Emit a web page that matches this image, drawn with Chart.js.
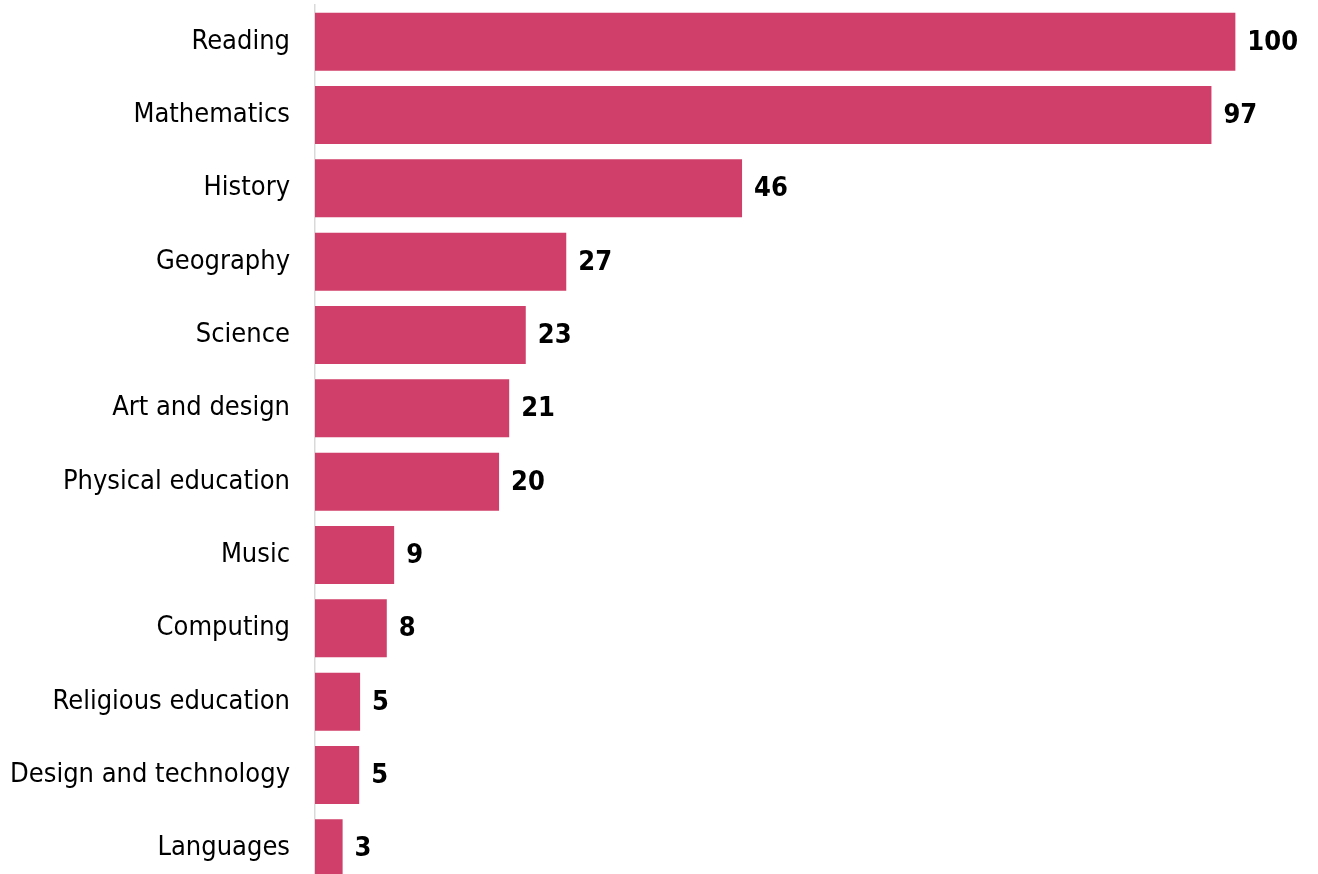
<!DOCTYPE html>
<html>
<head>
<meta charset="utf-8">
<script src="https://cdn.jsdelivr.net/npm/chart.js@4"></script>
<style>
  html, body { margin: 0; padding: 0; background: #fff; overflow: hidden; }
  canvas { display: block; }
</style>
</head>
<body>
<canvas id="subjectChart" width="1318" height="890"></canvas>
<script>
const categories = ["Reading", "Mathematics", "History", "Geography", "Science", "Art and design",
  "Physical education", "Music", "Computing", "Religious education", "Design and technology", "Languages"];
const values = [100, 97.4, 46.4, 27.3, 22.9, 21.1, 20.0, 8.6, 7.8, 4.9, 4.8, 3.0];

const barColor = "#d03f69";
const fontFamily = "'DejaVu Sans Condensed', 'DejaVu Sans', sans-serif";

// 在長條右側畫數值
const valueLabels = {
  id: "valueLabels",
  afterDatasetsDraw(chart) {
    const ctx = chart.ctx;
    const meta = chart.getDatasetMeta(0);
    ctx.save();
    ctx.font = "bold 27px " + fontFamily;
    ctx.fillStyle = "#000";
    ctx.textAlign = "left";
    ctx.textBaseline = "middle";
    meta.data.forEach((bar, i) => {
      ctx.fillText(String(Math.round(values[i])), bar.x + 12, bar.y + 1);
    });
    ctx.restore();
  }
};

const ctx = document.getElementById("subjectChart").getContext("2d");
new Chart(ctx, {
  type: "bar",
  data: {
    labels: categories,
    datasets: [{
      data: values,
      backgroundColor: barColor,
      barPercentage: 0.79,
      categoryPercentage: 1.0,
    }]
  },
  options: {
    indexAxis: "y",
    responsive: false,
    animation: false,
    layout: { padding: { top: 5, bottom: 5, right: 9 } },
    plugins: {
      legend: { display: false },
      tooltip: { enabled: false },
    },
    scales: {
      x: {
        display: false,
        min: 0,
        max: 108,
      },
      y: {
        // 固定軸寬, 並去掉標籤造成的上下留白
        afterFit(scale) {
          scale.width = 315;
          scale.paddingTop = 0;
          scale.paddingBottom = 0;
        },
        grid: { display: false, drawTicks: false },
        border: { display: true, color: "#d9d9d9", width: 1.5 },
        ticks: {
          padding: 25,
          color: "#000",
          font: { family: fontFamily, size: 27 },
        },
      }
    }
  },
  plugins: [valueLabels]
});
</script>
</body>
</html>
